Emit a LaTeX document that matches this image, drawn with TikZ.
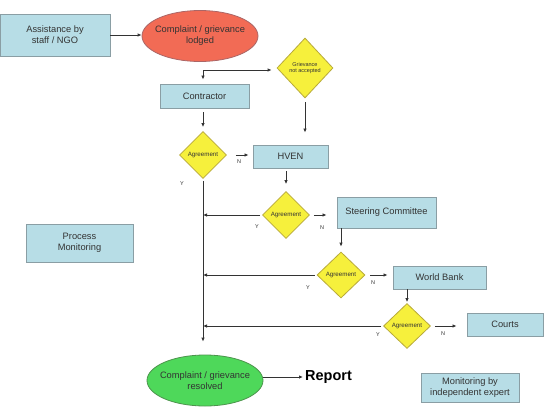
\documentclass[tikz,border=0pt]{standalone}
\usepackage{fontspec}
\setmainfont{Liberation Sans}
\usetikzlibrary{shapes.geometric,arrows.meta}
\definecolor{boxfill}{HTML}{B7DDE6}
\definecolor{boxline}{HTML}{8A9EA4}
\definecolor{dfill}{HTML}{F6F03C}
\definecolor{dline}{HTML}{B8AA3A}
\definecolor{redfill}{HTML}{F26B55}
\definecolor{greenfill}{HTML}{4ED85A}
\definecolor{ink}{HTML}{333333}
\begin{document}
\begin{tikzpicture}[x=1pt,y=-1pt,
  box/.style={draw=boxline,fill=boxfill,line width=0.9pt,rectangle,inner sep=0pt,
    align=center,font=\fontsize{9.3}{11}\selectfont,text=ink},
  dec/.style={draw=dline,fill=dfill,line width=0.8pt,diamond,inner sep=0pt,
    align=center,font=\fontsize{6.2}{7}\selectfont,text=ink},
  oval/.style={draw=boxline,line width=0.8pt,ellipse,inner xsep=-7pt,inner ysep=0pt,align=center,
    font=\fontsize{9.3}{11}\selectfont,text=ink},
  arr/.style={draw=ink,line width=0.8pt,-{Latex[length=4pt,width=3.5pt]}},
  lbl/.style={font=\fontsize{5.5}{6.5}\selectfont,text=ink}]
\useasboundingbox (0,0) rectangle (547,407);
\fill[white] (0,0) rectangle (547,407);

\node[box,minimum width=110pt,minimum height=42pt] (assist) at (55,35) {Assistance by\\staff / NGO};
\node[oval,fill=redfill,draw=red!45!black!60,minimum width=116pt,minimum height=51pt] (lodged) at (200,36) {Complaint / grievance\\lodged};
\node[dec,minimum width=56pt,minimum height=60pt,font=\fontsize{5.5}{6.5}\selectfont] (gna) at (305,68) {Grievance\\not accepted};
\node[box,minimum width=89pt,minimum height=24pt] (contractor) at (204.5,96) {Contractor};
\node[dec,minimum width=47pt,minimum height=47pt] (ag1) at (203,155) {Agreement};
\node[box,minimum width=75pt,minimum height=23pt] (hven) at (290.5,156.5) {HVEN};
\node[dec,minimum width=47pt,minimum height=47pt] (ag2) at (286,215) {Agreement};
\node[box,minimum width=99pt,minimum height=31pt] (steer) at (386.5,212.5) {Steering Committee};
\node[dec,minimum width=48pt,minimum height=46pt] (ag3) at (341,275) {Agreement};
\node[box,minimum width=93pt,minimum height=23pt] (wb) at (439.5,277.5) {World Bank};
\node[dec,minimum width=47pt,minimum height=45pt] (ag4) at (407,326) {Agreement};
\node[box,minimum width=76pt,minimum height=23pt] (courts) at (505,324.5) {Courts};
\node[oval,fill=greenfill,draw=green!40!black!70,minimum width=116pt,minimum height=51pt] (resolved) at (205,380.5) {Complaint / grievance\\resolved};
\node[anchor=west,inner sep=0pt,font=\fontsize{14.5}{17}\bfseries\selectfont] (report) at (305,377) {Report};
\node[box,minimum width=98pt,minimum height=29pt] (monitor) at (470,387.5) {Monitoring by\\independent expert};
\node[box,minimum width=107pt,minimum height=38pt] (process) at (79.5,243) {Process\\Monitoring};

% labels
\node[lbl] (y1) at (182,184) {Y};
\node[lbl] (n1) at (239,162) {N};
\node[lbl] (y2) at (257,227) {Y};
\node[lbl] (n2) at (322,228) {N};
\node[lbl] (y3) at (308,288) {Y};
\node[lbl] (n3) at (373,283) {N};
\node[lbl] (y4) at (378,335) {Y};
\node[lbl] (n4) at (443,334) {N};

% connectors
\draw[arr] (assist.east) -- (lodged.west |- assist.east);
\coordinate (s1) at (203,70);
\draw[arr,shorten >=4pt] (s1) -- (s1 |- contractor.north);
\draw[arr,shorten >=5pt] (s1) -- (s1 -| gna.west);
\draw[arr,shorten <=4pt,shorten >=4pt] (ag1.north |- contractor.south) -- (ag1.north);
\draw[arr,shorten <=9pt,shorten >=4pt] (ag1.east) -- (ag1.east -| hven.west);
\draw[arr,shorten <=4pt,shorten >=12pt] (gna.south) -- (gna.south |- hven.north);
\draw[arr,shorten <=3pt,shorten >=7pt] (ag2.north |- hven.south) -- (ag2.north);
\draw[arr,shorten <=2pt,shorten >=13pt] (ag1.south) -- (ag1.south |- resolved.north);
\draw[arr,shorten <=2pt] (ag2.west) -- (ag2.west -| ag1.south);
\draw[arr,shorten <=4pt,shorten >=10pt] (ag2.east) -- (ag2.east -| steer.west);
\draw[arr,shorten >=5pt] (ag3.north |- steer.south) -- (ag3.north);
\draw[arr,shorten <=2pt] (ag3.west) -- (ag3.west -| ag1.south);
\draw[arr,shorten <=5pt,shorten >=5pt] (ag3.east) -- (ag3.east -| wb.west);
\draw[arr,shorten >=1pt] (ag4.north |- wb.south) -- (ag4.north);
\draw[arr,shorten <=2pt] (ag4.west) -- (ag4.west -| ag1.south);
\draw[arr,shorten <=4pt,shorten >=10pt] (ag4.east) -- (ag4.east -| courts.west);
\draw[arr,shorten >=2pt] (resolved.east |- report.west) -- (report.west);
\end{tikzpicture}
\end{document}
